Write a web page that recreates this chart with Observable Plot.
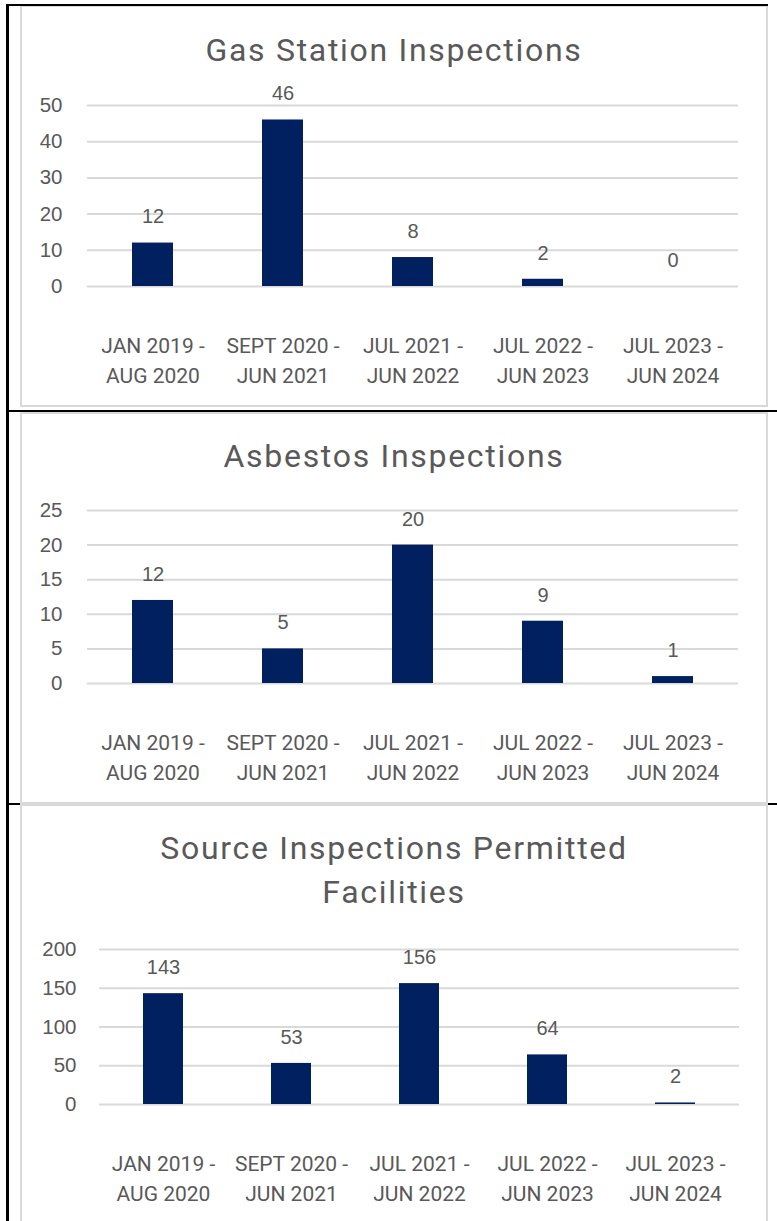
<!DOCTYPE html>
<html><head><meta charset="utf-8">
<script src="https://cdn.jsdelivr.net/npm/d3@7"></script>
<script src="https://cdn.jsdelivr.net/npm/@observablehq/plot@0.6"></script>
<style>
body{margin:0;background:#fff;width:777px;height:1221px;position:relative;overflow:hidden;font-family:Roboto,sans-serif;}
.box{position:absolute;left:20px;width:744px;border:2px solid #d9d9d9;background:#fff;box-sizing:content-box;}
.title{position:absolute;left:20px;width:748px;text-align:center;color:#595959;font-family:Roboto,sans-serif;font-size:32px;letter-spacing:1.7px;line-height:44px;}
.plot{position:absolute;left:0;}
.blk{position:absolute;background:#000;z-index:5;}
</style></head><body>
<div class="box" style="top:5px;height:398px"></div>
<div class="box" style="top:412px;height:388px"></div>
<div class="box" style="top:804px;height:430px"></div>
<div class="title" style="top:28px">Gas Station Inspections</div>
<div class="title" style="top:434px">Asbestos Inspections</div>
<div class="title" style="top:826px">Source Inspections Permitted<br>Facilities</div>
<div class="plot" id="p1" style="top:80px"></div>
<div class="plot" id="p2" style="top:485px"></div>
<div class="plot" id="p3" style="top:924px"></div>
<div class="blk" style="left:6px;top:4px;width:3px;height:1217px"></div>
<div class="blk" style="left:6px;top:4px;width:762px;height:2px"></div>
<div class="blk" style="left:6px;top:410px;width:771px;height:2px"></div>
<div class="blk" style="left:6px;top:803px;width:14px;height:2px"></div>
<div class="blk" style="left:768px;top:803px;width:9px;height:2px"></div>
<script>
const categories = ["JAN 2019 -\nAUG 2020", "SEPT 2020 -\nJUN 2021", "JUL 2021 -\nJUN 2022", "JUL 2022 -\nJUN 2023", "JUL 2023 -\nJUN 2024"];
const gasValues = [12, 46, 8, 2, 0];
const asbestosValues = [12, 5, 20, 9, 1];
const sourceValues = [143, 53, 156, 64, 2];
const gasTicks = [0, 10, 20, 30, 40, 50];
const asbestosTicks = [0, 5, 10, 15, 20, 25];
const sourceTicks = [0, 50, 100, 150, 200];

const TXT = "#595959";
const NUMFONT = "'Liberation Sans', Arial, sans-serif";
const LBLFONT = "Roboto, sans-serif";

function makeChart(id, values, ticks, height, marginLeft, marginRight, marginBottom, yPad) {
  const data = categories.map((c, i) => ({c, v: values[i]}));
  const p = Plot.plot({
    width: 777, height, marginTop: 25, marginBottom, marginLeft, marginRight,
    style: {background: "transparent", color: TXT},
    x: {domain: categories, paddingInner: 0.685, paddingOuter: 0.3425},
    y: {domain: [ticks[0], ticks[ticks.length - 1]]},
    marks: [
      Plot.gridY(ticks, {stroke: "#d9d9d9", strokeOpacity: 1, strokeWidth: 2}),
      Plot.axisY(ticks, {tickSize: 0, tickPadding: yPad, fontSize: 20.5, fontFamily: NUMFONT, fill: TXT, label: null}),
      Plot.axisX({tickSize: 0, tickPadding: 46, fontSize: 21, lineHeight: 1.4, fontFamily: LBLFONT, fill: TXT, label: null}),
      Plot.barY(data, {x: "c", y: "v", fill: "#002060"}),
      Plot.text(data, {x: "c", y: "v", text: d => String(d.v), dy: -26, fontSize: 20, fontFamily: NUMFONT, fill: TXT, lineAnchor: "middle"})
    ]
  });
  document.getElementById(id).appendChild(p);
}
makeChart("p1", gasValues, gasTicks, 320, 87, 39, 114, 25);
makeChart("p2", asbestosValues, asbestosTicks, 315, 87, 39, 117, 25);
makeChart("p3", sourceValues, sourceTicks, 297, 99, 38, 117, 23);
</script>
</body></html>
